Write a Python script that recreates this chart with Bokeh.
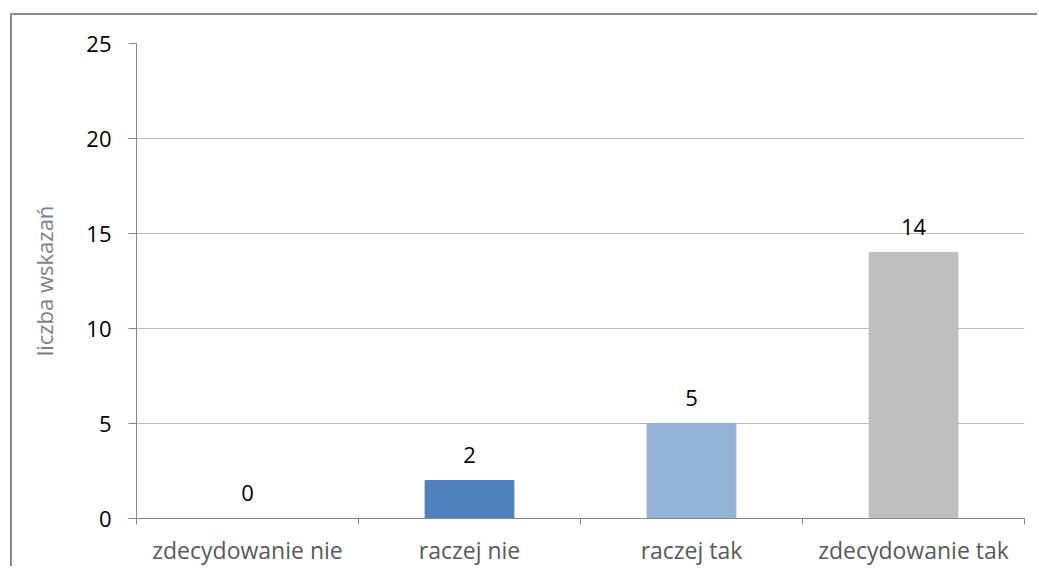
from bokeh.plotting import figure
from bokeh.models import (ColumnDataSource, LinearAxis, Range1d, FixedTicker,
                          InlineStyleSheet, LabelSet)
from bokeh.core.properties import value
from bokeh.embed import file_html
from bokeh.resources import INLINE

categories = ["zdecydowanie nie", "raczej nie", "raczej tak", "zdecydowanie tak"]
counts = [0, 2, 5, 14]
colors = ["#4F81BD", "#4F81BD", "#95B3D7", "#BFBFBF"]
y_ticks = [0, 5, 10, 15, 20, 25]
y_title = "liczba wskazań"

FONT = "Open Sans"
FS = "22px"

idx = list(range(len(categories)))
src = ColumnDataSource(dict(x=idx, cat=categories, val=counts, col=colors,
                            lab=[str(v) for v in counts]))

p = figure(x_range=Range1d(-0.5, len(categories) - 0.5), y_range=Range1d(0, 25),
           width=1027, height=553, output_backend="svg", toolbar_location=None,
           min_border_left=124, min_border_right=15, min_border_top=28,
           min_border_bottom=50,
           x_axis_location=None, y_axis_location=None)
p.stylesheets.append(InlineStyleSheet(
    css=":host { position: relative; left: 10px; top: 13px; "
        "border-top: 2px solid #8A8A8A; border-left: 2px solid #8A8A8A; "
        "border-right: none; border-bottom: none; outline: none; }"))

p.outline_line_color = None
p.background_fill_color = "white"
p.border_fill_color = "white"

p.vbar(x="x", top="val", width=0.4, color="col", source=src)

labels = LabelSet(x="x", y="val", text="lab", source=src, text_align="center",
                  text_baseline="middle", y_offset=26, text_font=value(FONT),
                  text_font_size=FS, text_color="#000000")
p.add_layout(labels)

# y axis
yax = LinearAxis(ticker=FixedTicker(ticks=y_ticks))
yax.axis_line_color = "#868686"
yax.major_tick_line_color = "#868686"
yax.major_tick_out = 8
yax.major_tick_in = 0
yax.minor_tick_line_color = None
yax.major_label_text_font = FONT
yax.major_label_text_font_size = FS
yax.major_label_text_color = "#000000"
yax.major_label_standoff = 17
yax.axis_label = y_title
yax.axis_label_text_font = FONT
yax.axis_label_text_font_style = "normal"
yax.axis_label_text_font_size = FS
yax.axis_label_text_color = "#7F7F7F"
yax.axis_label_standoff = 24
p.add_layout(yax, "left")

p.ygrid.ticker = FixedTicker(ticks=y_ticks)
p.ygrid.grid_line_color = "#BBBBBB"
p.xgrid.grid_line_color = None

# x axis: labels at category centres, minor ticks at the boundaries
xax = LinearAxis(ticker=FixedTicker(ticks=idx,
                                    minor_ticks=[i - 0.5 for i in range(len(categories) + 1)]),
                 major_label_overrides={i: c for i, c in zip(idx, categories)})
xax.axis_line_color = "#868686"
xax.major_tick_line_color = None
xax.major_tick_out = 0
xax.major_tick_in = 0
xax.minor_tick_line_color = "#868686"
xax.minor_tick_out = 6
xax.minor_tick_in = 0
xax.major_label_text_font = FONT
xax.major_label_text_font_size = "23px"
xax.major_label_text_color = "#595959"
xax.major_label_standoff = 9
p.add_layout(xax, "below")

open("out.html", "w").write(file_html(p, INLINE))
